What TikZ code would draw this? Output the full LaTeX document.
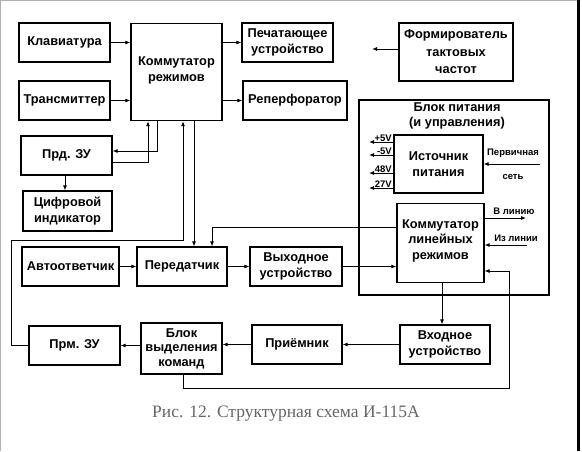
\documentclass[tikz,border=0pt]{standalone}
\usepackage{fontspec}
\setmainfont{Liberation Sans}
\newfontfamily\capfont{Liberation Serif}
\usetikzlibrary{arrows.meta}
\begin{document}
\begin{tikzpicture}[x=1pt,y=-1pt,
  blk/.style={draw,line width=1.2pt,align=center,inner sep=0pt,
    font=\fontsize{12.8}{15.5}\selectfont\bfseries},
  arr/.style={line width=0.9pt,-{Latex[length=5pt,width=4pt]}},
  small/.style={font=\fontsize{9.5}{11}\selectfont\bfseries,inner sep=0.5pt}]
\useasboundingbox (0,0) rectangle (582,451);
\fill[white] (0,0) rectangle (582,451);
\draw[gray!60,line width=1pt] (0,0.8) -- (577,0.8);
\draw[gray!60,line width=1.2pt] (0.8,0) -- (0.8,451);
\fill[black] (576.5,0) rectangle (579.5,451);

% boxes
\node[blk,minimum width=91pt,minimum height=39pt] (klav) at (64.5,42.5) {Клавиатура};
\node[blk,minimum width=91pt,minimum height=39pt] (trans) at (64.5,100.5) {Трансмиттер};
\node[blk,minimum width=91pt,minimum height=97pt,anchor=north] (komm) at (176.5,23) {\\[-10pt]Коммутатор\\режимов};
\node[blk,minimum width=91pt,minimum height=39pt] (pech) at (287.5,42.5) {Печатающее\\устройство};
\node[blk,minimum width=104pt,minimum height=39pt] (rep) at (295,100.5) {Реперфоратор};
\node[blk,minimum width=114pt,minimum height=58pt,font=\fontsize{12.8}{17.5}\selectfont\bfseries] (form) at (456,52) {Формирователь\\тактовых\\частот};
\node[blk,minimum width=91pt,minimum height=39pt] (prd) at (66.5,155.5) {Прд. ЗУ};
\node[blk,minimum width=89pt,minimum height=40pt] (cifr) at (67.5,211) {Цифровой\\индикатор};
\node[blk,minimum width=97pt,minimum height=39pt] (avto) at (70.5,266.5) {Автоответчик};
\node[blk,minimum width=90pt,minimum height=39pt] (pered) at (182,266.5) {Передатчик};
\node[blk,minimum width=92pt,minimum height=39pt] (vyh) at (296,266.5) {Выходное\\устройство};
\node[draw,line width=1.2pt,minimum width=190pt,minimum height=195pt,inner sep=0pt] (bp) at (454,197.5) {};
\node[blk,draw=none,anchor=north] (bptitle) at (457,102) {Блок питания\\(и управления)};
\node[blk,minimum width=89pt,minimum height=58pt] (ist) at (438.5,164) {Источник\\питания};
\node[blk,minimum width=87pt,minimum height=79pt,anchor=north] (kl) at (440.5,203) {\\[-12pt]Коммутатор\\линейных\\режимов};
\node[blk,minimum width=91pt,minimum height=39pt] (prm) at (74.5,345.5) {Прм. ЗУ};
\node[blk,minimum width=81pt,minimum height=51pt,font=\fontsize{12.8}{14.5}\selectfont\bfseries] (bvk) at (181.5,348.5) {Блок\\выделения\\команд};
\node[blk,minimum width=90pt,minimum height=39pt] (priem) at (297,344.5) {Приёмник};
\node[blk,minimum width=90pt,minimum height=39pt] (vhod) at (445,344.5) {Входное\\устройство};

% coordinates
\coordinate (fa) at (372,49);
\coordinate (lc) at (11,240);
\coordinate (fb) at (509,388);
\coordinate (pn) at (540,164);
\coordinate (vl) at (526,218);
\coordinate (il) at (527,245);
\coordinate (v1) at (369,142);
\coordinate (v2) at (369,155);
\coordinate (v3) at (369,173);
\coordinate (v4) at (369,188);

% connectors
\draw[arr] (klav.east) -- (klav.east -| komm.west);
\draw[arr] (trans.east) -- (trans.east -| komm.west);
\draw[arr] (komm.east |- pech.west) -- (pech.west);
\draw[arr] (komm.east |- rep.west) -- (rep.west);
\draw[arr] (form.west |- fa) -- (fa);
\draw[arr] ([yshift=-6.5pt]prd.east) -| ([xshift=-28.5pt]komm.south);
\draw[arr] ([xshift=-19.5pt]komm.south) |- ([yshift=4.5pt]prd.east);
\draw[arr] ([xshift=-1.5pt]prd.south) -- ([xshift=-1.5pt]prd.south |- cifr.north);
\draw[arr] (prm.west) -| (lc) -| ([xshift=6.5pt]komm.south);
\draw[arr] ([xshift=17.5pt]komm.south) -- ([xshift=17.5pt]komm.south |- pered.north);
\draw[arr] (kl.west |- 0,227) -| ([xshift=30pt]pered.north);
\draw[arr] (avto.east) -- (pered.west);
\draw[arr] (pered.east) -- (vyh.west);
\draw[arr] (vyh.east) -- (vyh.east -| kl.west);
\draw[arr] ([xshift=1.5pt]kl.south) -- ([xshift=1.5pt]kl.south |- vhod.north);
\draw[arr] (vhod.west) -- (priem.east);
\draw[arr] (priem.west) -- (priem.west -| bvk.east);
\draw[arr] (bvk.west |- prm.east) -- (prm.east);
\draw[arr,line width=0.8pt] ([xshift=1.5pt]bvk.south) |- (fb) |- (kl.east |- 0,271);
% power block
\draw[arr] (ist.west |- v1) -- (v1);
\draw[arr] (ist.west |- v2) -- (v2);
\draw[arr] (ist.west |- v3) -- (v3);
\draw[arr] (ist.west |- v4) -- (v4);
\node[small,anchor=south east] (l1) at (392.5,142.5) {+5V};
\node[small,anchor=south east] (l2) at (392.5,155.5) {-5V};
\node[small,anchor=south east] (l3) at (392.5,173.5) {48V};
\node[small,anchor=south east] (l4) at (392.5,188.5) {27V};
\draw[arr] (pn) -- (pn -| ist.east);
\node[small] (pl1) at (513,153) {Первичная};
\node[small] (pl2) at (513,177) {сеть};
\draw[arr] (kl.east |- vl) -- (vl);
\node[small,anchor=south] (vll) at (514,215) {В линию};
\draw[arr] (il) -- (il -| kl.east);
\node[small,anchor=south] (ill) at (516,242) {Из линии};

% caption
\node[font=\capfont\fontsize{17.5}{20}\selectfont,text=black!60] (cap) at (286,414) {Рис. 12. Структурная схема И-115А};
\end{tikzpicture}
\end{document}
